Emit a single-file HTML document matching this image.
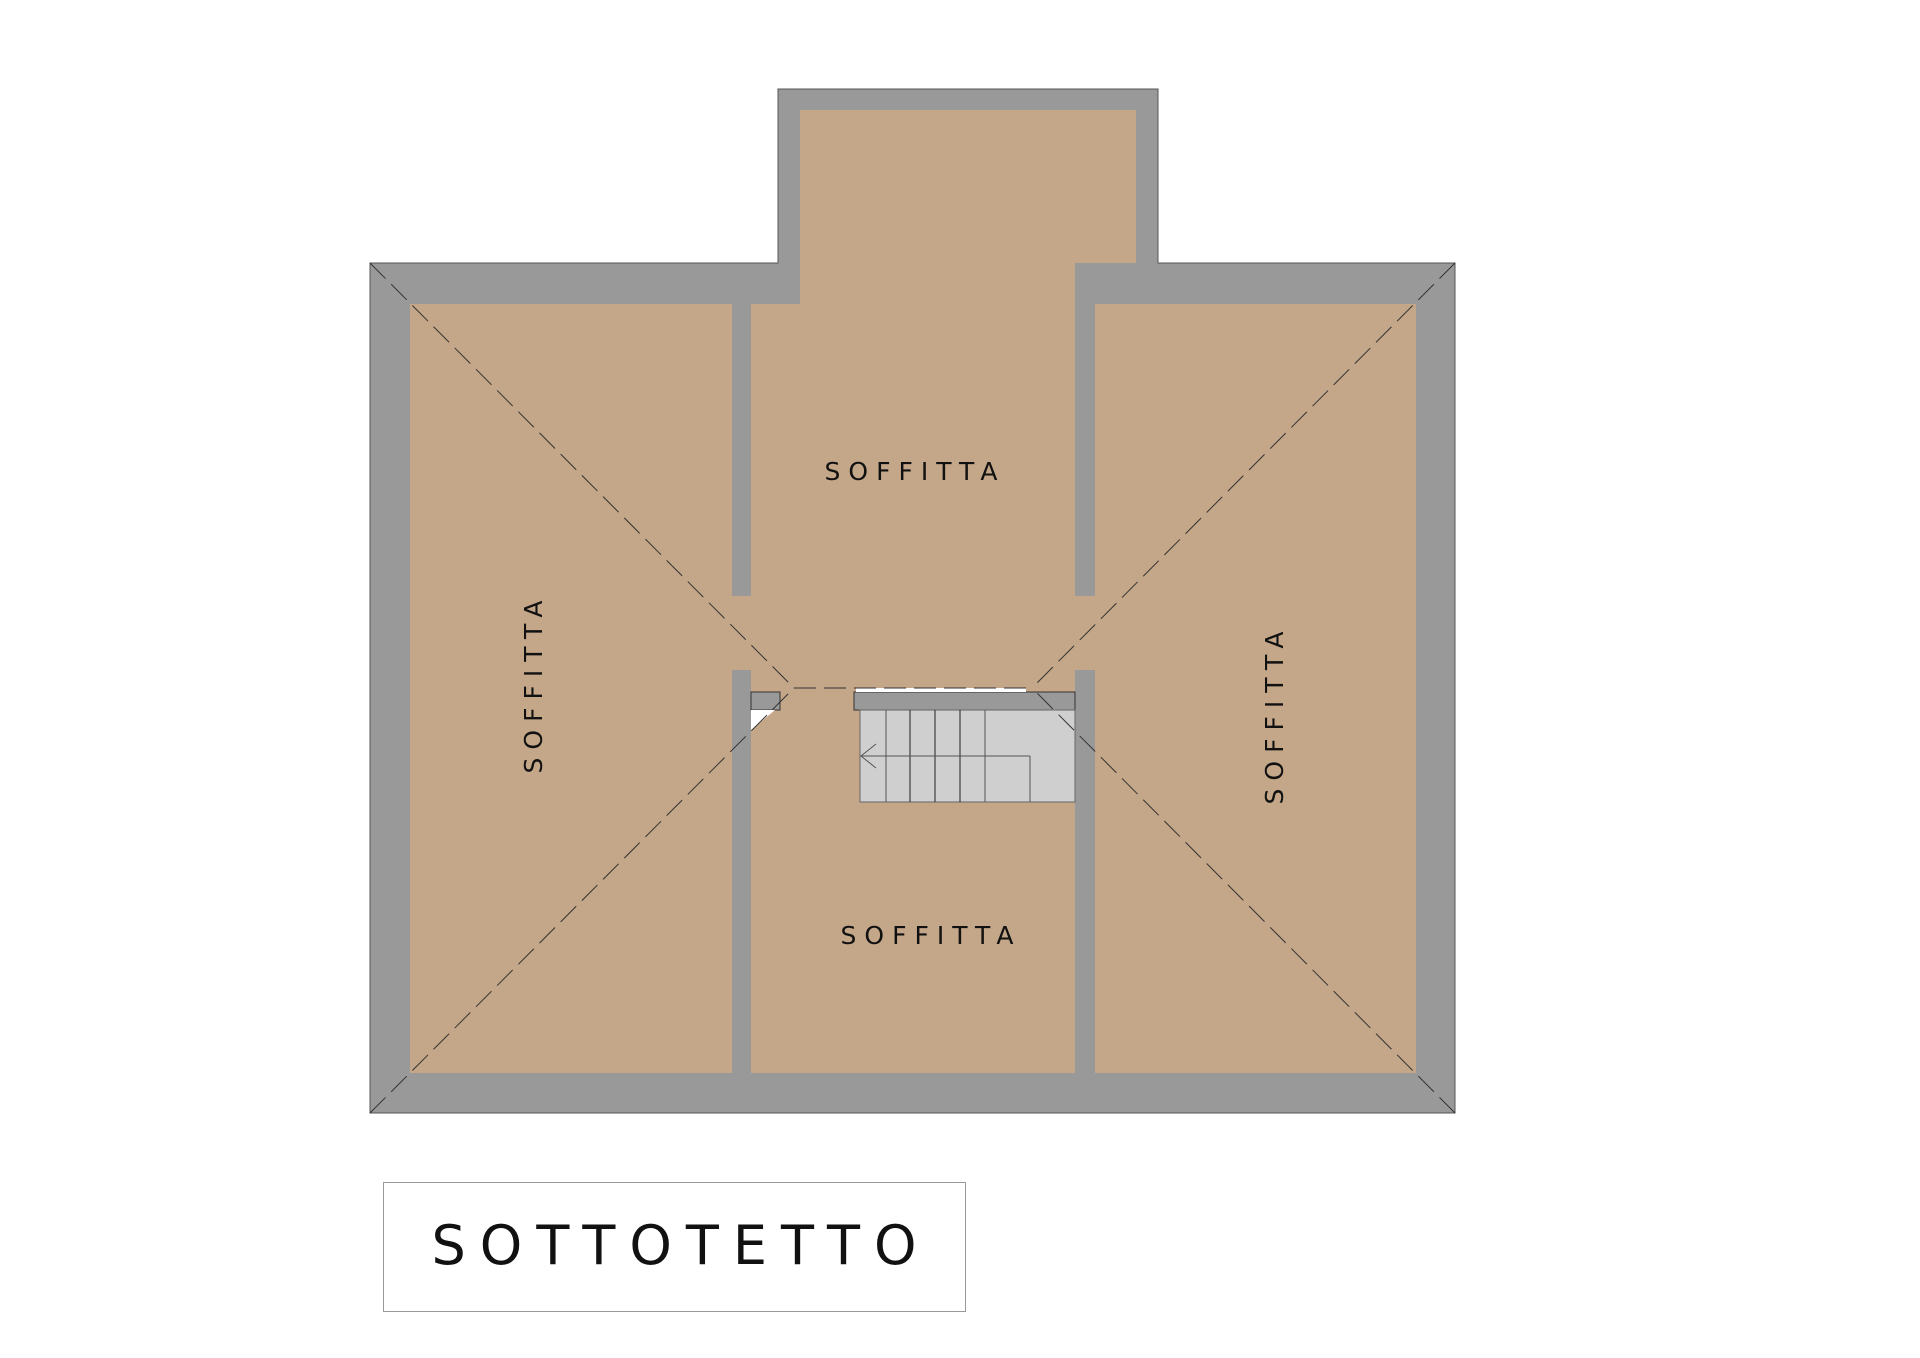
<!DOCTYPE html>
<html><head><meta charset="utf-8"><style>
body{margin:0;background:#fff;width:1920px;height:1358px;overflow:hidden}
svg{display:block}
text{font-family:"DejaVu Sans","Liberation Sans",sans-serif;fill:#111}
</style></head><body>
<svg width="1920" height="1358" viewBox="0 0 1920 1358" xmlns="http://www.w3.org/2000/svg">
<!-- outer walls -->
<path d="M370 263 H778 V89 H1158 V263 H1455 V1113 H370 Z" fill="#999" stroke="#555" stroke-width="1"/>
<!-- floors -->
<rect x="410" y="304" width="322" height="769" fill="#c4a688"/>
<path d="M750 304 H800 V110 H1136 V263 H1075 V1073 H750 Z" fill="#c4a688"/>
<rect x="1095" y="304" width="321" height="769" fill="#c4a688"/>
<rect x="732" y="596" width="19" height="74" fill="#c4a688"/>
<rect x="1075" y="596" width="20" height="74" fill="#c4a688"/>
<!-- partitions -->
<rect x="732" y="304" width="19" height="292" fill="#999"/>
<rect x="1075" y="263" width="20" height="333" fill="#999"/>
<rect x="732" y="670" width="19" height="403" fill="#999"/>
<rect x="1075" y="670" width="20" height="403" fill="#999"/>
<rect x="751" y="692" width="29" height="18" fill="#999" stroke="#333" stroke-width="1"/>
<path d="M751 710 H775 L751 730 Z" fill="#fff"/>
<!-- stair -->
<rect x="854" y="692" width="221" height="18" fill="#999" stroke="#333" stroke-width="1"/>
<rect x="856" y="688" width="170" height="4" fill="#fff"/>
<rect x="860" y="710" width="215" height="92" fill="#cfcfcf" stroke="#666" stroke-width="1"/>
<g stroke="#555" stroke-width="1">
<line x1="886" y1="710" x2="886" y2="802"/><line x1="910" y1="710" x2="910" y2="802" stroke="#222"/>
<line x1="935" y1="710" x2="935" y2="802" stroke="#222"/><line x1="960" y1="710" x2="960" y2="802" stroke="#222"/>
<line x1="985" y1="710" x2="985" y2="802"/><line x1="1030" y1="756" x2="1030" y2="802"/>
<line x1="861" y1="756" x2="1030" y2="756"/>
<polyline points="876,744 861,756 876,768" fill="none"/>
</g>
<!-- hip lines -->
<g stroke="#333" stroke-width="1" stroke-dasharray="22,8" fill="none">
<line x1="370" y1="263" x2="794" y2="688"/>
<line x1="370" y1="1113" x2="794" y2="688"/>
<line x1="1455" y1="263" x2="1032" y2="688"/>
<line x1="1455" y1="1113" x2="1032" y2="688"/>
<line x1="794" y1="688" x2="1032" y2="688"/>
</g>
<!-- labels -->
<text x="915" y="480" font-size="25" letter-spacing="8" text-anchor="middle">SOFFITTA</text>
<text x="931" y="944" font-size="25" letter-spacing="8" text-anchor="middle">SOFFITTA</text>
<text transform="translate(542,683) rotate(-90)" font-size="25" letter-spacing="8" text-anchor="middle">SOFFITTA</text>
<text transform="translate(1283,714) rotate(-90)" font-size="25" letter-spacing="8" text-anchor="middle">SOFFITTA</text>
<!-- title -->
<rect x="383.5" y="1182.5" width="582" height="129" fill="#fff" stroke="#999" stroke-width="1"/>
<text x="681" y="1264" font-size="54" letter-spacing="14" text-anchor="middle">SOTTOTETTO</text>
</svg>
</body></html>
